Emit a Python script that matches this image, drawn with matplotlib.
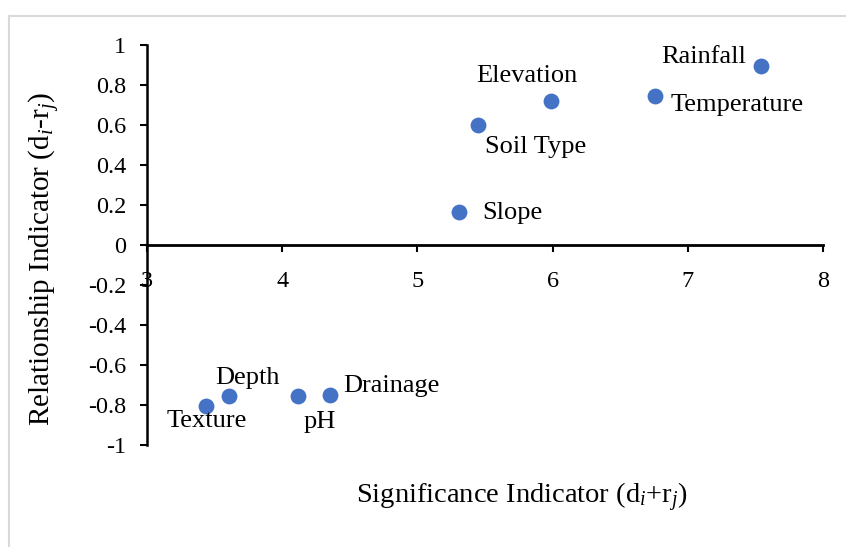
import matplotlib
matplotlib.use("Agg")
import matplotlib.pyplot as plt
from matplotlib.lines import Line2D

plt.rcParams['font.family'] = ['Liberation Serif', 'DejaVu Serif']
plt.rcParams['mathtext.fontset'] = 'custom'
plt.rcParams['mathtext.rm'] = 'Liberation Serif'
plt.rcParams['mathtext.it'] = 'Liberation Serif:italic'

# factors: significance (d+r) vs relationship (d-r)
factors = ['Texture', 'Depth', 'pH', 'Drainage', 'Slope',
           'Soil Type', 'Elevation', 'Temperature', 'Rainfall']
significance = [3.44, 3.61, 4.12, 4.35, 5.31, 5.45, 5.99, 6.76, 7.54]
relationship = [-0.805, -0.755, -0.755, -0.75, 0.165, 0.60, 0.72, 0.745, 0.895]

# label offsets in points (dx, dy, ha)
label_pos = {
    'Texture': (0, -11, 'center'),
    'Depth': (12.6, 12.7, 'center'),
    'pH': (15, -18.5, 'center'),
    'Drainage': (9.9, 6.2, 'left'),
    'Slope': (16.6, -1, 'left'),
    'Soil Type': (41.5, -15.8, 'center'),
    'Elevation': (-17.3, 17.8, 'center'),
    'Temperature': (11, -6.5, 'left'),
    'Rainfall': (-10.6, 6.3, 'right'),
}

fig = plt.figure(figsize=(8.46, 5.47), dpi=100)
ax = fig.add_axes([147 / 846, 102 / 547, 676 / 846, 400 / 547])

ax.scatter(significance, relationship, s=130, color='#4472C4', zorder=3, linewidths=0)

for name, x, y in zip(factors, significance, relationship):
    dx, dy, ha = label_pos[name]
    ax.annotate(name, (x, y), xytext=(dx, dy), textcoords='offset points',
                ha=ha, va='center', fontsize=19, color='black')

ax.set_xlim(3, 8)
ax.set_ylim(-1, 1)
ax.set_xticks([3, 4, 5, 6, 7, 8])
ax.set_yticks([-1, -0.8, -0.6, -0.4, -0.2, 0, 0.2, 0.4, 0.6, 0.8, 1])
ax.set_yticklabels(['-1', '-0.8', '-0.6', '-0.4', '-0.2', '0', '0.2', '0.4', '0.6', '0.8', '1'])

ax.spines['top'].set_visible(False)
ax.spines['right'].set_visible(False)
ax.spines['bottom'].set_position(('data', 0))
ax.spines['left'].set_linewidth(1.8)
ax.spines['bottom'].set_linewidth(2.0)
ax.tick_params(axis='x', direction='out', length=5, width=1.5, pad=14, labelsize=17.5)
ax.tick_params(axis='y', direction='out', length=5, width=1.5, pad=10, labelsize=17.5)
ax.patch.set_alpha(0)

fig.text(45 / 846, 1 - 259 / 547, r'Relationship Indicator (d$_i$-r$_j$)',
         fontsize=21, ha='center', va='center', rotation=90)
fig.text(522 / 846, 1 - 497 / 547, r'Significance Indicator (d$_i$+r$_j$)',
         fontsize=20.5, ha='center', va='center')

# light frame on top and left edges
fig.add_artist(Line2D([8.5 / 846, 8.5 / 846], [0, 1 - 15.5 / 547], color='#d9d9d9', lw=1.5,
                      transform=fig.transFigure))
fig.add_artist(Line2D([8.5 / 846, 1], [1 - 15.5 / 547, 1 - 15.5 / 547], color='#d9d9d9', lw=1.5,
                      transform=fig.transFigure))

fig.savefig('out.png', dpi=100)
